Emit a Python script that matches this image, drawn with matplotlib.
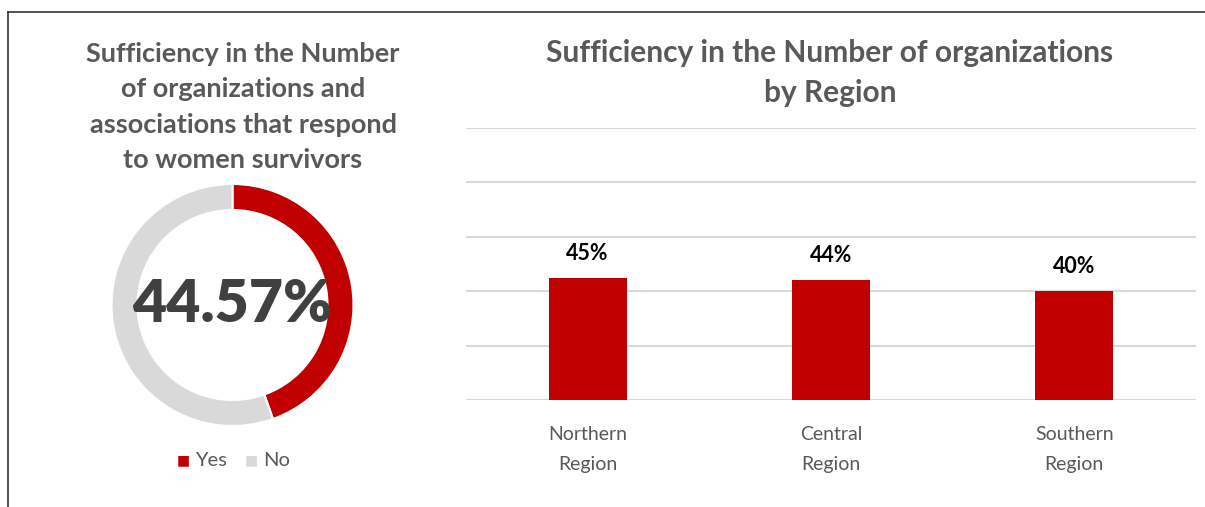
import matplotlib.pyplot as plt
from matplotlib.lines import Line2D

plt.rcParams['font.family'] = ['Lato', 'DejaVu Sans']

# data
donut_labels = ["Yes", "No"]
donut_values = [44.57, 55.43]
regions = ["Northern\nRegion", "Central\nRegion", "Southern\nRegion"]
region_values = [0.45, 0.44, 0.40]

red = "#C00000"
light = "#D9D9D9"
grey_text = "#595959"

W, H = 1205, 507
fig = plt.figure(figsize=(W / 100, H / 100), dpi=100)

def fx(px):
    return px / W

def fy(py):
    return (H - py) / H

# frame lines (top and left)
fig.add_artist(Line2D([fx(8), 1.0], [fy(12), fy(12)], color="#333333", lw=1.2))
fig.add_artist(Line2D([fx(8), fx(8)], [fy(12), 0.0], color="#333333", lw=1.2))

# donut
cx, cy, r = 232.5, 305, 121
dax = fig.add_axes([fx(cx - r), fy(cy + r), 2 * r / W, 2 * r / H])
dax.pie(donut_values, colors=[red, light], startangle=90, counterclock=False,
        radius=1.0, wedgeprops=dict(width=0.215, edgecolor="white", linewidth=1.5))
dax.set_xlim(-1, 1)
dax.set_ylim(-1, 1)
dax.axis("off")
dax.text(0, 0.0, f"{donut_values[0]:.2f}%", ha="center", va="center",
         fontsize=42.5, fontweight="heavy", color="#404040")

fig.text(fx(243), fy(107), "Sufficiency in the Number\nof organizations and\nassociations that respond\nto women survivors",
         ha="center", va="center", fontsize=19.5, fontweight="bold", color=grey_text,
         linespacing=1.58)

# legend for donut
fig.text(fx(183), fy(460), "\u25A0", ha="center", va="center", fontsize=10, color=red)
fig.text(fx(195), fy(460), donut_labels[0], ha="left", va="center", fontsize=14.5, color=grey_text)
fig.text(fx(251), fy(460), "\u25A0", ha="center", va="center", fontsize=10, color=light)
fig.text(fx(263), fy(460), donut_labels[1], ha="left", va="center", fontsize=14.5, color=grey_text)

# bar chart
bax = fig.add_axes([fx(466), fy(400), fx(1196) - fx(466), (400 - 128) / H])
x = range(len(regions))
bars = bax.bar(x, region_values, width=0.32, color=red, zorder=3)
bax.set_ylim(0, 1.0)
bax.set_xlim(-0.5, 2.5)
bax.set_yticks([0, 0.2, 0.4, 0.6, 0.8, 1.0])
bax.yaxis.grid(True, color=light, lw=1.5, zorder=0)
bax.set_yticklabels([])
bax.tick_params(axis="y", length=0)
bax.tick_params(axis="x", length=0, pad=19)
bax.set_xticks(list(x))
bax.set_xticklabels(regions, fontsize=14, color=grey_text, linespacing=1.88)
for s in bax.spines.values():
    s.set_visible(False)
for b, v in zip(bars, region_values):
    bax.annotate(f"{v:.0%}", (b.get_x() + b.get_width() / 2, v), xytext=(0, 10),
                 textcoords="offset points", ha="center", va="bottom",
                 fontsize=15.5, fontweight="bold", color="black")

fig.text(fx(830), fy(73), "Sufficiency in the Number of organizations\nby Region",
         ha="center", va="center", fontsize=21.5, fontweight="bold", color=grey_text,
         linespacing=1.55)

fig.savefig("out.png", dpi=100)
